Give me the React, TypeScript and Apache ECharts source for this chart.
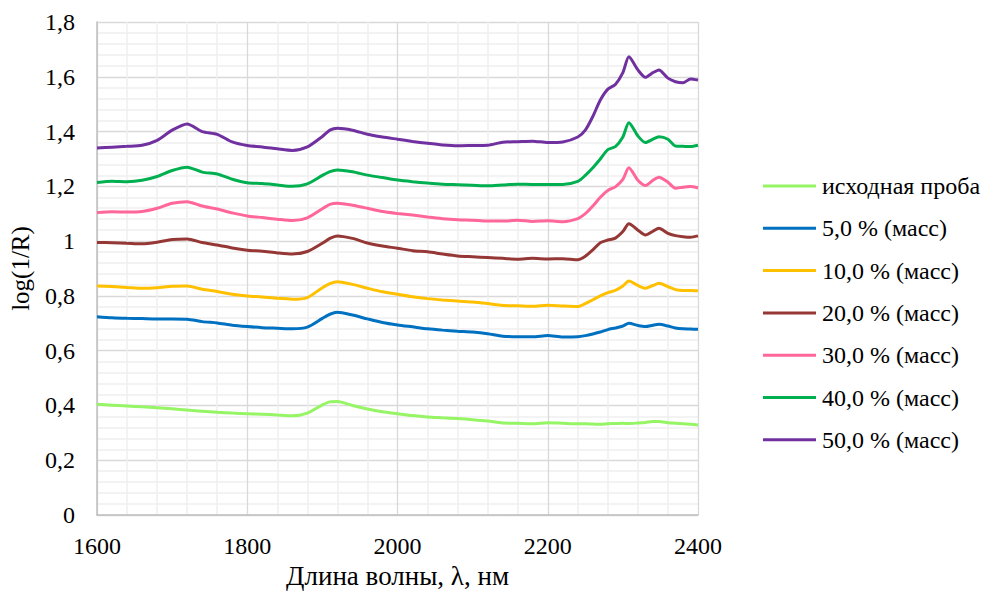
import React, { useEffect, useRef } from "react";
import * as echarts from "echarts";

// Wavelength grid, nm
const wavelengths = [
  1600, 1620, 1640, 1660, 1680, 1700, 1720, 1740, 1760, 1780, 1800, 1820, 1840, 1860, 1880, 1900, 1910,
  1920, 1940, 1960, 1980, 2000, 2020, 2040, 2060, 2080, 2100, 2120, 2140, 2160, 2180, 2200, 2220, 2240,
  2250, 2260, 2270, 2280, 2290, 2300, 2308, 2320, 2330, 2340, 2348, 2360, 2370, 2380, 2390, 2400,
];

// log(1/R) spectra
const original = [
  0.404, 0.401, 0.398, 0.395, 0.392, 0.388, 0.383, 0.379, 0.375, 0.372, 0.37, 0.368, 0.365, 0.362, 0.372, 0.402, 0.413,
  0.414, 0.4, 0.387, 0.377, 0.37, 0.363, 0.358, 0.355, 0.352, 0.348, 0.343, 0.336, 0.335, 0.333, 0.337, 0.335, 0.333,
  0.333, 0.332, 0.331, 0.333, 0.334, 0.335, 0.334, 0.336, 0.338, 0.341, 0.341, 0.337, 0.335, 0.333, 0.331, 0.329,
];
const mass5 = [
  0.724, 0.72, 0.718, 0.717, 0.716, 0.716, 0.715, 0.706, 0.701, 0.693, 0.688, 0.684, 0.682, 0.68, 0.686, 0.718, 0.733,
  0.74, 0.73, 0.716, 0.703, 0.694, 0.687, 0.68, 0.675, 0.671, 0.668, 0.662, 0.653, 0.651, 0.651, 0.655, 0.65, 0.651,
  0.655, 0.661, 0.668, 0.677, 0.683, 0.69, 0.7, 0.692, 0.688, 0.693, 0.696, 0.69, 0.683, 0.68, 0.679, 0.678,
];
const mass10 = [
  0.836, 0.834, 0.831, 0.828, 0.83, 0.835, 0.836, 0.824, 0.816, 0.806, 0.8, 0.796, 0.791, 0.788, 0.794, 0.83, 0.845,
  0.852, 0.842, 0.828, 0.815, 0.806, 0.797, 0.79, 0.785, 0.781, 0.778, 0.772, 0.765, 0.764, 0.762, 0.766, 0.763, 0.761,
  0.772, 0.786, 0.8, 0.812, 0.82, 0.836, 0.854, 0.838, 0.828, 0.838, 0.846, 0.834, 0.823, 0.82, 0.82, 0.819,
];
const mass20 = [
  0.995, 0.994, 0.992, 0.99, 0.996, 1.006, 1.008, 0.995, 0.986, 0.975, 0.967, 0.963, 0.957, 0.953, 0.962, 0.992, 1.01,
  1.019, 1.01, 0.993, 0.982, 0.974, 0.965, 0.961, 0.953, 0.946, 0.943, 0.94, 0.937, 0.934, 0.937, 0.935, 0.936, 0.932,
  0.945, 0.968, 0.994, 1.004, 1.011, 1.035, 1.063, 1.04, 1.022, 1.036, 1.047, 1.028, 1.02, 1.016, 1.014, 1.019,
];
const mass30 = [
  1.104, 1.107, 1.106, 1.108, 1.12, 1.138, 1.144, 1.128, 1.117, 1.103, 1.092, 1.086, 1.08, 1.075, 1.085, 1.118, 1.134,
  1.138, 1.131, 1.12, 1.108, 1.101, 1.095, 1.088, 1.082, 1.078, 1.076, 1.073, 1.073, 1.076, 1.072, 1.074, 1.071, 1.082,
  1.1, 1.128, 1.16, 1.185, 1.198, 1.225, 1.268, 1.222, 1.203, 1.222, 1.233, 1.215, 1.193, 1.197, 1.199, 1.194,
];
const mass40 = [
  1.214, 1.219, 1.217, 1.222, 1.236, 1.258, 1.27, 1.252, 1.245, 1.226, 1.213, 1.21, 1.205, 1.2, 1.209, 1.24, 1.254,
  1.26, 1.253, 1.241, 1.232, 1.223, 1.217, 1.212, 1.208, 1.206, 1.204, 1.202, 1.205, 1.208, 1.207, 1.207, 1.207, 1.218,
  1.24, 1.268, 1.3, 1.334, 1.345, 1.38, 1.432, 1.384, 1.36, 1.372, 1.381, 1.372, 1.347, 1.346, 1.345, 1.35,
];
const mass50 = [
  1.34, 1.343, 1.346, 1.35, 1.368, 1.405, 1.428, 1.4, 1.39, 1.362, 1.349, 1.344, 1.337, 1.331, 1.344, 1.382, 1.405,
  1.412, 1.405, 1.39, 1.38, 1.372, 1.364, 1.357, 1.351, 1.348, 1.349, 1.35, 1.361, 1.363, 1.365, 1.36, 1.362, 1.38,
  1.405, 1.455, 1.515, 1.555, 1.572, 1.615, 1.673, 1.625, 1.598, 1.615, 1.625, 1.595, 1.582, 1.578, 1.592, 1.588,
];

const seriesNames = [
  "исходная проба",
  "5,0 % (масс)",
  "10,0 % (масс)",
  "20,0 % (масс)",
  "30,0 % (масс)",
  "40,0 % (масс)",
  "50,0 % (масс)",
];
const seriesValues = [original, mass5, mass10, mass20, mass30, mass40, mass50];
const seriesColors = ["#95F565", "#0070C0", "#FFC000", "#953735", "#FF6699", "#00B050", "#7030A0"];

const FONT = "'Liberation Serif', 'Times New Roman', serif";

const fmtComma = (v: number) => String(Math.round(v * 10) / 10).replace(".", ",");

export default function App() {
  const ref = useRef<HTMLDivElement>(null);

  useEffect(() => {
    if (!ref.current) return;
    const chart = echarts.init(ref.current, undefined, { renderer: "svg" });
    chart.setOption({
      animation: false,
      backgroundColor: "#ffffff",
      textStyle: { fontFamily: FONT },
      grid: { left: 94, right: 286, top: 22, bottom: 80, containLabel: false },
      legend: {
        orient: "vertical",
        left: 758,
        top: 169,
        icon: "rect",
        itemWidth: 53,
        itemHeight: 3,
        itemGap: 18.3,
        textStyle: { fontFamily: FONT, fontSize: 24, color: "#000", lineHeight: 24, padding: [0, 0, 0, 1] },
        data: seriesNames,
      },
      xAxis: {
        type: "value",
        min: 1600,
        max: 2400,
        interval: 200,
        name: "Длина волны, λ, нм",
        nameLocation: "middle",
        nameGap: 47,
        nameTextStyle: { fontFamily: FONT, fontSize: 27, color: "#000" },
        axisLine: { show: true, lineStyle: { color: "#bfbfbf", width: 1.5 } },
        axisTick: { show: false },
        axisLabel: { fontFamily: FONT, fontSize: 24, color: "#000", margin: 19, formatter: (v: number) => String(v) },
        splitLine: { show: true, lineStyle: { color: "#d9d9d9", width: 1.3 } },
        minorTick: { show: false, splitNumber: 5 },
        minorSplitLine: { show: true, lineStyle: { color: "#efefef", width: 1.5 } },
      },
      yAxis: {
        type: "value",
        min: 0,
        max: 1.8,
        interval: 0.2,
        name: "log(1/R)",
        nameLocation: "middle",
        nameGap: 64,
        nameTextStyle: { fontFamily: FONT, fontSize: 25, color: "#000" },
        axisLine: { show: true, lineStyle: { color: "#bfbfbf", width: 1.5 } },
        axisTick: { show: false },
        axisLabel: { fontFamily: FONT, fontSize: 24, color: "#000", margin: 22, formatter: fmtComma },
        splitLine: { show: true, lineStyle: { color: "#d9d9d9", width: 1.3 } },
        minorTick: { show: false, splitNumber: 5 },
        minorSplitLine: { show: true, lineStyle: { color: "#efefef", width: 1.5 } },
      },
      series: seriesNames.map((name, i) => ({
        name,
        type: "line",
        data: wavelengths.map((w, j) => [w, seriesValues[i][j]]),
        showSymbol: false,
        smooth: 0.25,
        color: seriesColors[i],
        lineStyle: { width: 3, color: seriesColors[i] },
      })),
    });
    return () => chart.dispose();
  }, []);

  return <div ref={ref} style={{ width: 984, height: 595, position: "absolute", left: 0, top: 0 }} />;
}
